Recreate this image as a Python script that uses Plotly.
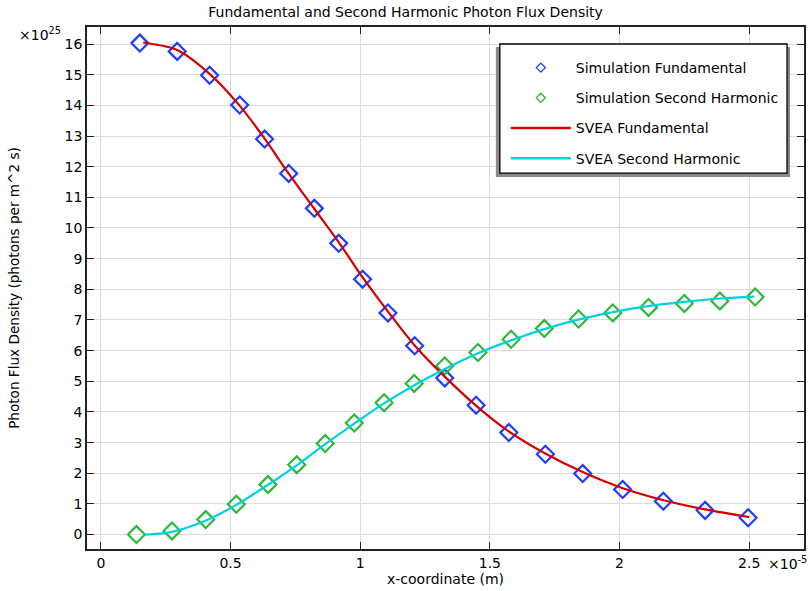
import plotly.graph_objects as go

# Data (x in units of 1e-5 m, y in units of 1e25 photons/(m^2 s))
sim_fund_x = [0.15, 0.294, 0.419, 0.535, 0.631, 0.724, 0.823, 0.917, 1.009, 1.107,
              1.210, 1.326, 1.447, 1.573, 1.714, 1.858, 2.012, 2.169, 2.330, 2.496]
sim_fund_y = [16.03, 15.76, 14.98, 14.01, 12.90, 11.78, 10.64, 9.50, 8.33, 7.23,
              6.16, 5.11, 4.22, 3.33, 2.62, 1.99, 1.47, 1.09, 0.79, 0.55]

sim_sh_x = [0.137, 0.274, 0.404, 0.522, 0.644, 0.755, 0.865, 0.977, 1.092, 1.208,
            1.326, 1.454, 1.582, 1.710, 1.842, 1.974, 2.112, 2.250, 2.387, 2.523]
sim_sh_y = [0.0, 0.12, 0.49, 0.99, 1.63, 2.28, 2.97, 3.64, 4.30, 4.93,
            5.50, 5.94, 6.37, 6.72, 7.03, 7.23, 7.41, 7.54, 7.62, 7.75]

svea_fund_x = [0.163, 0.25, 0.30, 0.42, 0.53, 0.63, 0.72, 0.82, 0.92, 1.01,
               1.11, 1.21, 1.32, 1.45, 1.57, 1.71, 1.86, 2.01, 2.17, 2.33, 2.50]
svea_fund_y = [16.05, 15.92, 15.78, 15.02, 14.04, 12.93, 11.82, 10.66, 9.50, 8.38,
               7.24, 6.17, 5.20, 4.18, 3.38, 2.66, 2.03, 1.52, 1.12, 0.82, 0.57]

svea_sh_x = [0.17, 0.27, 0.40, 0.52, 0.64, 0.755, 0.865, 0.977, 1.09, 1.21,
             1.33, 1.45, 1.58, 1.71, 1.84, 1.97, 2.11, 2.25, 2.39, 2.52]
svea_sh_y = [0.0, 0.08, 0.44, 0.96, 1.60, 2.26, 2.95, 3.62, 4.27, 4.88,
             5.42, 5.90, 6.33, 6.70, 7.01, 7.25, 7.45, 7.59, 7.70, 7.76]

x_tickvals = [0, 0.5, 1, 1.5, 2, 2.5]
x_ticktext = ["0", "0.5", "1", "1.5", "2", "2.5"]
y_tickvals = list(range(0, 17))

BLUE = "#1f3cff"
GREEN = "#2db83d"
RED = "#d40000"
CYAN = "#00d2dc"
FONT = "DejaVu Sans"
FS = 14

fig = go.Figure()

fig.add_trace(go.Scatter(x=sim_fund_x, y=sim_fund_y, mode="markers", showlegend=False,
                         marker=dict(symbol="diamond-open", size=13, color=BLUE,
                                     line=dict(width=2.2, color=BLUE))))
fig.add_trace(go.Scatter(x=sim_sh_x, y=sim_sh_y, mode="markers", showlegend=False,
                         marker=dict(symbol="diamond-open", size=13, color=GREEN,
                                     line=dict(width=2.2, color=GREEN))))
fig.add_trace(go.Scatter(x=svea_fund_x, y=svea_fund_y, mode="lines", showlegend=False,
                         line=dict(color=RED, width=2.2, shape="spline")))
fig.add_trace(go.Scatter(x=svea_sh_x, y=svea_sh_y, mode="lines", showlegend=False,
                         line=dict(color=CYAN, width=2.2, shape="spline")))

# legend entries
fig.add_trace(go.Scatter(x=[None], y=[None], mode="markers", name="Simulation Fundamental",
                         legendgroup="a",
                         marker=dict(symbol="diamond-open", size=7, color=BLUE,
                                     line=dict(width=1.3, color=BLUE))))
fig.add_trace(go.Scatter(x=[None], y=[None], mode="markers", name="Simulation Second Harmonic",
                         legendgroup="b",
                         marker=dict(symbol="diamond-open", size=7, color=GREEN,
                                     line=dict(width=1.3, color=GREEN))))
fig.add_trace(go.Scatter(x=[None], y=[None], mode="lines", name="SVEA Fundamental",
                         legendgroup="c", line=dict(color=RED, width=2.5)))
fig.add_trace(go.Scatter(x=[None], y=[None], mode="lines", name="SVEA Second Harmonic",
                         legendgroup="d", line=dict(color=CYAN, width=2.5)))

FW, FH = 810, 591
# plot area in pixels
L, R, T, B = 87, 806, 27, 548.7
W, H = R - L, B - T


def px(xs):
    return (xs - L) / W


def py(ys):
    return (B - ys) / H


shapes = [
    dict(type="rect", xref="paper", yref="paper", x0=px(497), x1=px(792), y0=py(177), y1=py(47),
         fillcolor="#8a8a8a", line=dict(width=0), layer="above"),
    dict(type="rect", xref="paper", yref="paper", x0=px(501), x1=px(789), y0=py(173), y1=py(44),
         fillcolor="white", line=dict(color="black", width=1.3), layer="above"),
]

axis_common = dict(showline=True, linecolor="#222", linewidth=1.8, mirror="ticks",
                   ticks="inside", ticklen=7, tickcolor="#222", tickwidth=1.3,
                   showgrid=True, gridcolor="#dcdcdc", gridwidth=1, zeroline=False,
                   tickfont=dict(family=FONT, size=FS, color="black"))

fig.update_layout(
    width=FW, height=FH,
    margin=dict(l=L, r=FW - R, t=T, b=FH - B),
    paper_bgcolor="white", plot_bgcolor="white",
    title=dict(text="Fundamental and Second Harmonic Photon Flux Density",
               x=px(447), xanchor="center", y=1 - 12 / FH, yanchor="middle",
               font=dict(family=FONT, size=FS, color="black")),
    xaxis=dict(range=[-0.0538, 2.7115], tickvals=x_tickvals, ticktext=x_ticktext,
               title=dict(text="x-coordinate (m)", standoff=1,
                          font=dict(family=FONT, size=FS, color="black")),
               **axis_common),
    yaxis=dict(range=[-0.47, 16.555], tickvals=y_tickvals,
               title=dict(text="Photon Flux Density (photons per m^2 s)", standoff=42,
                          font=dict(family=FONT, size=13.6, color="black")),
               **axis_common),
    shapes=shapes,
    legend=dict(x=px(507), y=py(52), xanchor="left", yanchor="top",
                bgcolor="rgba(0,0,0,0)", borderwidth=0, itemwidth=60,
                tracegroupgap=9, traceorder="grouped",
                font=dict(family=FONT, size=FS, color="black")),
    annotations=[
        dict(text="×10<sup>25</sup>", xref="paper", yref="paper", x=px(63), y=py(34),
             xanchor="right", yanchor="middle", showarrow=False,
             font=dict(family=FONT, size=FS, color="black")),
        dict(text="×10<sup>-5</sup>", xref="paper", yref="paper", x=px(768), y=py(563),
             xanchor="left", yanchor="middle", showarrow=False,
             font=dict(family=FONT, size=FS, color="black")),
    ],
)

fig.write_html("out.html", config={"displayModeBar": False},
               post_script="document.body.style.margin='0px';")
